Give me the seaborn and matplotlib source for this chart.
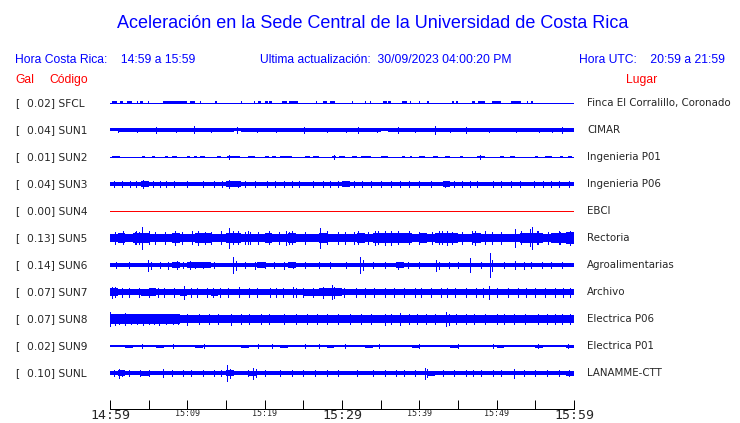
import numpy as np
import matplotlib
matplotlib.use("Agg")
import matplotlib.pyplot as plt
import seaborn as sns

# ==========================
# DATA
# ==========================
gal = [0.02, 0.04, 0.01, 0.04, 0.00, 0.13, 0.14, 0.07, 0.07, 0.02, 0.10]
codes = ["SFCL", "SUN1", "SUN2", "SUN3", "SUN4", "SUN5",
         "SUN6", "SUN7", "SUN8", "SUN9", "SUNL"]
places = ["Finca El Corralillo, Coronado", "CIMAR", "Ingenieria P01",
          "Ingenieria P06", "EBCI", "Rectoria", "Agroalimentarias",
          "Archivo", "Electrica P06", "Electrica P01", "LANAMME-CTT"]

tick_minutes = [0, 5, 10, 15, 20, 25, 30, 35, 40, 45, 50, 55, 60]
tick_labels = ["14:59", "", "15:09", "", "15:19", "", "15:29",
               "", "15:39", "", "15:49", "", "15:59"]

# half-height of each trace, one value per minute (pixels);
# None = quiet trace drawn as a plain line plus short bursts
env_sfcl = None
env_sun1 = [1.5, 1.7, 1.9, 1.9, 1.9, 1.8, 1.9, 1.8, 1.8, 1.9,
            1.8, 1.8, 1.7, 1.8, 1.8, 1.8, 1.5, 1.8, 1.8, 1.7,
            1.8, 1.8, 1.8, 1.8, 1.8, 1.8, 1.8, 1.8, 1.8, 1.9,
            2.1, 2.1, 2.0, 1.8, 1.8, 1.5, 1.6, 1.8, 1.8, 1.8,
            1.9, 1.9, 2.0, 1.9, 1.8, 1.8, 1.7, 1.8, 1.8, 1.8,
            1.7, 1.8, 1.7, 1.8, 1.7, 1.8, 1.6, 1.7, 1.8, 1.7]
env_sun2 = None
env_sun3 = [2.4, 2.4, 2.2, 2.4, 2.6, 2.2, 2.2, 2.4, 2.2, 2.2,
            2.2, 2.2, 2.2, 2.2, 2.4, 2.6, 2.6, 2.4, 2.2, 2.4,
            2.4, 2.4, 2.4, 2.2, 2.2, 2.2, 2.4, 2.2, 2.4, 2.4,
            2.6, 2.2, 2.2, 2.2, 2.2, 2.4, 2.2, 2.2, 2.4, 2.2,
            2.2, 2.4, 2.4, 2.6, 2.2, 2.2, 2.2, 2.4, 2.4, 2.2,
            2.2, 2.2, 2.2, 2.2, 2.4, 2.2, 2.2, 2.4, 2.2, 2.2]
env_sun4 = None
env_sun5 = [4.4, 4.6, 4.4, 4.6, 4.9, 4.4, 4.4, 4.4, 4.9, 4.4,
            4.4, 4.9, 4.6, 4.4, 4.4, 4.9, 4.6, 4.4, 4.4, 4.4,
            4.6, 4.4, 4.4, 4.9, 4.4, 4.4, 4.4, 4.6, 4.4, 4.4,
            4.4, 4.4, 4.6, 4.4, 5.2, 5.4, 5.4, 5.4, 4.9, 4.4,
            4.6, 4.4, 4.6, 4.9, 4.9, 4.4, 4.4, 4.6, 4.4, 4.4,
            4.4, 4.4, 4.4, 4.6, 4.9, 4.9, 4.4, 4.6, 5.2, 5.9]
env_sun6 = [2.2, 2.2, 2.0, 2.1, 2.1, 2.1, 2.0, 2.1, 2.6, 2.4,
            2.6, 2.9, 2.6, 2.1, 2.0, 2.2, 2.4, 2.1, 2.2, 2.6,
            2.4, 2.4, 2.0, 2.6, 2.1, 2.1, 2.0, 2.0, 2.0, 2.1,
            2.0, 2.4, 2.4, 2.2, 2.1, 2.2, 2.1, 2.6, 2.1, 2.0,
            2.1, 2.1, 2.4, 2.1, 2.0, 2.1, 2.0, 2.1, 2.1, 2.4,
            2.2, 2.1, 2.4, 2.1, 2.1, 2.1, 2.0, 2.0, 2.1, 2.1]
env_sun7 = [3.8, 3.3, 3.1, 3.3, 3.5, 3.6, 3.3, 3.1, 3.1, 3.5,
            3.3, 3.1, 3.3, 3.5, 3.3, 3.1, 3.1, 3.3, 3.1, 3.1,
            3.3, 3.3, 3.1, 3.3, 3.3, 3.5, 3.5, 3.6, 3.6, 3.8,
            3.3, 3.3, 3.1, 3.1, 3.3, 3.1, 3.3, 3.3, 3.3, 3.3,
            3.3, 3.1, 3.3, 3.3, 3.1, 3.1, 3.1, 3.3, 3.3, 3.3,
            3.1, 3.1, 3.3, 3.1, 3.3, 3.1, 3.1, 3.3, 3.3, 3.3]
env_sun8 = [5.3, 4.8, 4.8, 4.8, 4.8, 4.6, 4.8, 4.6, 4.6, 4.3,
            3.8, 3.8, 3.6, 3.8, 3.6, 3.8, 3.8, 3.6, 3.8, 3.6,
            3.8, 3.8, 3.6, 3.8, 3.6, 3.6, 3.6, 3.6, 3.8, 3.8,
            3.6, 3.8, 3.6, 3.8, 3.8, 4.1, 3.8, 4.1, 3.8, 3.6,
            3.8, 3.8, 4.1, 4.3, 3.8, 3.6, 3.6, 3.6, 3.6, 3.8,
            3.6, 3.8, 3.6, 3.6, 3.8, 3.6, 3.6, 3.8, 3.6, 3.6]
env_sun9 = [1.4, 1.4, 1.5, 1.4, 1.4, 1.4, 1.5, 1.4, 1.4, 1.4,
            1.4, 1.5, 1.4, 1.4, 1.4, 1.4, 1.4, 1.5, 1.4, 1.4,
            1.4, 1.4, 1.5, 1.4, 1.4, 1.4, 1.4, 1.4, 1.5, 1.4,
            1.4, 1.4, 1.4, 1.5, 1.4, 1.4, 1.4, 1.4, 1.4, 1.5,
            1.4, 1.4, 1.4, 1.4, 1.5, 1.4, 1.4, 1.4, 1.4, 1.4,
            1.5, 1.4, 1.4, 1.4, 1.4, 1.5, 1.4, 1.4, 1.4, 1.5]
env_sunl = [2.3, 2.6, 2.0, 2.0, 2.5, 2.0, 2.0, 2.3, 2.0, 2.0,
            2.1, 2.0, 2.1, 2.0, 2.1, 2.8, 2.3, 2.0, 2.5, 2.0,
            2.1, 2.0, 2.0, 2.0, 2.0, 2.0, 2.0, 2.0, 2.0, 2.0,
            2.0, 2.1, 2.0, 2.0, 2.0, 2.0, 2.0, 2.1, 2.0, 2.0,
            2.3, 2.5, 2.0, 2.0, 2.0, 2.0, 2.0, 2.0, 2.0, 2.3,
            2.0, 2.1, 2.3, 2.0, 2.0, 2.1, 2.0, 2.0, 2.1, 2.5]

# short bursts on the quiet traces: (start minute, end minute)
bursts_sfcl = [(0.2, 0.9), (1.3, 1.7), (2.2, 2.9), (3.5, 3.6), (3.9, 4.3),
               (4.9, 5.0), (6.9, 10.0), (10.4, 11.0), (11.7, 11.8),
               (13.6, 13.9), (17.0, 17.1), (18.6, 18.8), (19.2, 19.5),
               (20.0, 20.4), (20.6, 21.0), (22.3, 22.9), (23.2, 24.3),
               (26.7, 26.8), (27.6, 28.0), (28.4, 29.1), (31.3, 31.4),
               (33.0, 33.1), (33.6, 33.8), (35.3, 35.8), (36.0, 36.4),
               (37.7, 38.4), (38.8, 38.9), (40.0, 40.1), (41.0, 41.3),
               (44.2, 44.5), (44.8, 45.0), (46.8, 47.2), (47.6, 48.5),
               (49.4, 50.6), (51.9, 53.2), (53.9, 54.0), (54.5, 54.7),
               (58.8, 58.9)]
bursts_sun2 = [(0.2, 1.3), (4.1, 4.5), (5.4, 5.8), (7.1, 7.5), (8.0, 8.6),
               (9.9, 10.4), (10.8, 11.2), (11.6, 12.3), (13.8, 14.3),
               (15.1, 16.8), (17.9, 18.8), (20.0, 20.6), (21.0, 21.5),
               (22.0, 23.5), (25.2, 25.8), (26.3, 27.0), (28.7, 29.2),
               (29.6, 30.4), (31.3, 32.0), (32.4, 33.8), (35.1, 36.0),
               (37.7, 38.2), (38.8, 39.0), (40.0, 40.7), (41.8, 42.4),
               (43.3, 44.0), (45.3, 45.7), (47.4, 48.5), (50.4, 51.0),
               (51.7, 52.4), (54.9, 55.3), (56.3, 57.1), (58.2, 58.6),
               (59.2, 59.7)]
burst_half = [1.5, 0, 1.4, 0, 0, 0, 0, 0, 0, 0, 0]

# isolated peaks: (minute, half-height in pixels)
spk_sfcl = []
spk_sun1 = [(1.0, 2.4), (3.5, 2.4), (6.0, 2.6), (8.5, 2.4), (10.8, 3.5),
            (13.0, 2.4), (16.4, 2.6), (19.0, 2.4), (21.5, 2.4), (25.1, 2.6),
            (28.0, 2.4), (30.5, 2.4), (32.1, 3.3), (34.5, 2.4), (37.2, 2.6),
            (39.5, 2.4), (42.0, 3.7), (44.0, 2.4), (46.0, 2.6), (49.0, 2.4),
            (52.5, 2.4), (55.5, 2.4), (57.2, 2.4), (58.4, 2.8)]
spk_sun2 = [(15.4, 2.0), (29.0, 1.8), (47.8, 1.8)]
spk_sun3 = [(0.5, 3.0), (1.5, 3.0), (2.6, 3.0), (3.4, 3.0), (4.3, 3.6),
            (5.5, 3.0), (6.5, 3.0), (7.2, 3.0), (8.3, 3.0), (9.9, 3.0),
            (12.0, 3.0), (13.5, 3.0), (14.5, 3.0), (15.4, 3.6), (16.5, 3.0),
            (17.5, 3.2), (18.7, 3.0), (20.3, 3.0), (21.3, 3.0), (22.5, 3.0),
            (23.5, 3.0), (24.5, 3.0), (26.3, 3.2), (27.5, 3.0), (28.4, 3.0),
            (29.5, 3.0), (31.5, 3.0), (32.6, 3.0), (33.8, 3.0), (35.0, 3.0),
            (36.3, 3.0), (37.5, 3.0), (38.6, 3.0), (40.0, 3.0), (41.5, 3.0),
            (43.3, 3.4), (44.5, 3.0), (45.5, 3.0), (46.5, 3.0), (47.5, 3.0),
            (49.5, 3.0), (50.5, 3.0), (51.8, 3.0), (53.0, 3.0), (54.8, 3.2),
            (56.0, 3.0), (57.0, 3.0), (58.0, 3.0), (59.3, 3.0)]
spk_sun4 = []
spk_sun5 = [(0.6, 6.0), (1.7, 6.5), (3.2, 6.0), (3.3, 6.5), (3.7, 6.0),
            (4.2, 11.5), (5.0, 6.5), (5.8, 6.0), (7.1, 6.0), (8.4, 7.0),
            (9.3, 6.0), (10.6, 6.5), (11.4, 7.5), (12.3, 6.0), (13.1, 6.0),
            (14.4, 6.5), (15.4, 10.0), (15.9, 6.5), (16.6, 6.5), (17.5, 6.0),
            (17.9, 6.5), (18.1, 6.0), (19.2, 6.0), (20.5, 6.5), (21.8, 6.0),
            (22.8, 7.0), (23.2, 6.0), (23.5, 6.5), (25.2, 6.0), (27.1, 9.5),
            (28.0, 6.5), (29.5, 6.0), (30.4, 6.0), (31.5, 6.0), (32.1, 6.5),
            (33.4, 6.0), (34.3, 7.0), (34.7, 6.5), (35.6, 7.0), (36.4, 7.5),
            (37.3, 6.5), (38.6, 6.5), (39.9, 6.0), (41.6, 6.0), (42.5, 6.5),
            (42.9, 6.5), (43.6, 7.5), (44.2, 6.0), (45.5, 6.0), (46.8, 6.5),
            (47.2, 7.0), (48.5, 6.5), (49.4, 6.0), (50.6, 6.0), (52.4, 9.0),
            (53.2, 6.5), (54.3, 8.5), (54.6, 10.5), (55.2, 6.5), (55.4, 6.5),
            (56.7, 6.0), (58.0, 6.5), (58.2, 6.0), (59.5, 7.0)]
spk_sun6 = [(0.8, 3.3), (2.5, 3.3), (4.9, 5.5), (5.3, 3.5), (6.5, 3.3),
            (7.5, 3.5), (8.7, 3.7), (9.5, 3.3), (10.3, 4.0), (11.0, 3.3),
            (12.0, 3.3), (13.5, 3.3), (15.9, 8.0), (16.3, 4.5), (17.5, 3.3),
            (18.8, 3.5), (20.0, 3.3), (21.2, 3.3), (22.5, 3.5), (23.7, 3.3),
            (25.2, 3.3), (27.0, 3.3), (28.5, 3.3), (30.5, 3.3), (32.3, 8.0),
            (32.7, 5.0), (34.0, 3.3), (35.5, 3.3), (37.3, 3.5), (38.5, 3.3),
            (40.0, 3.3), (42.2, 5.5), (42.5, 3.5), (43.8, 3.3), (45.0, 3.3),
            (46.6, 7.0), (48.0, 3.3), (49.1, 12.0), (49.4, 5.5), (51.0, 3.3),
            (52.4, 4.0), (53.5, 3.5), (54.5, 3.3), (55.8, 3.3), (57.0, 3.3),
            (58.5, 3.3)]
spk_sun7 = [(0.2, 5.5), (0.6, 5.0), (1.5, 4.5), (2.4, 4.5), (3.7, 4.5),
            (5.0, 4.5), (6.2, 4.5), (7.0, 4.5), (8.3, 4.5), (9.6, 6.5),
            (10.5, 4.5), (11.3, 4.5), (12.5, 4.5), (13.3, 4.5), (14.2, 4.5),
            (15.2, 4.5), (16.7, 5.0), (18.0, 4.5), (19.0, 4.5), (20.7, 4.5),
            (21.5, 4.5), (22.4, 4.5), (23.6, 5.0), (24.0, 4.5), (25.0, 4.5),
            (26.2, 4.5), (27.5, 5.5), (28.7, 7.0), (29.0, 5.5), (30.3, 4.5),
            (31.8, 4.5), (33.0, 4.5), (34.2, 4.5), (35.5, 4.5), (36.7, 4.5),
            (38.0, 4.5), (39.4, 4.5), (40.2, 4.5), (41.5, 4.5), (42.8, 4.5),
            (43.6, 4.5), (44.6, 4.5), (46.0, 4.5), (47.3, 4.5), (48.2, 4.5),
            (49.0, 6.5), (50.0, 4.5), (51.5, 4.5), (52.7, 4.5), (53.8, 4.5),
            (55.0, 4.5), (56.2, 4.5), (57.5, 4.5), (58.6, 4.5), (59.5, 4.5)]
spk_sun8 = [(0.0, 7.0), (0.7, 5.5), (1.2, 5.0), (2.0, 6.0), (2.7, 5.0),
            (3.5, 5.0), (4.3, 5.5), (5.0, 5.0), (5.7, 5.0), (6.3, 5.5),
            (7.3, 5.0), (8.1, 5.0), (8.8, 5.0), (10.0, 5.5), (11.5, 5.0),
            (12.8, 5.0), (14.0, 5.0), (15.6, 5.5), (17.0, 5.0), (18.0, 5.0),
            (19.5, 5.0), (20.6, 5.0), (22.5, 5.0), (24.0, 5.0), (25.5, 5.0),
            (26.8, 5.0), (28.0, 5.0), (29.5, 5.0), (31.0, 5.0), (32.4, 5.0),
            (33.8, 5.0), (35.5, 5.5), (36.3, 5.0), (37.5, 6.0), (38.6, 5.0),
            (39.7, 5.0), (40.8, 5.0), (42.0, 5.0), (43.4, 7.0), (43.8, 5.5),
            (44.8, 5.0), (46.0, 5.0), (47.1, 5.0), (48.5, 5.0), (50.0, 5.0),
            (51.0, 5.0), (52.3, 5.0), (53.7, 5.0), (55.3, 5.0), (56.5, 5.0),
            (57.5, 5.0), (58.5, 5.0), (59.5, 5.0)]
spk_sun9 = [(4.2, 2.2), (8.1, 2.2), (12.2, 2.2), (19.1, 2.2), (21.0, 2.2),
            (25.2, 2.2), (27.0, 2.2), (30.4, 2.2), (34.8, 2.2), (40.0, 2.2),
            (45.0, 2.2), (49.5, 2.2), (55.4, 2.2), (59.2, 2.2)]
spk_sunl = [(0.5, 3.3), (1.1, 4.5), (1.5, 3.3), (2.5, 3.0), (3.9, 3.3),
            (5.0, 3.0), (6.9, 3.8), (8.0, 3.0), (9.5, 3.2), (10.5, 3.0),
            (12.0, 3.2), (13.5, 3.0), (14.3, 3.0), (15.1, 8.0), (15.5, 4.5),
            (17.8, 3.3), (18.5, 5.5), (18.9, 4.0), (20.0, 3.0), (22.0, 3.2),
            (23.5, 3.0), (25.0, 3.0), (26.5, 3.0), (28.0, 3.0), (29.5, 3.0),
            (32.0, 3.2), (34.0, 3.0), (35.5, 3.0), (37.0, 3.0), (38.0, 3.2),
            (39.5, 3.0), (40.7, 5.5), (41.0, 4.0), (43.0, 3.0), (44.5, 3.0),
            (46.0, 3.0), (47.0, 3.2), (48.0, 3.0), (49.5, 3.0), (50.5, 3.0),
            (52.2, 4.5), (53.5, 3.0), (55.0, 3.3), (56.5, 3.0), (58.0, 3.0),
            (59.3, 3.3)]

envelopes = [env_sfcl, env_sun1, env_sun2, env_sun3, env_sun4, env_sun5,
             env_sun6, env_sun7, env_sun8, env_sun9, env_sunl]
bursts = [bursts_sfcl, [], bursts_sun2, [], [], [], [], [], [], [], []]
spikes = [spk_sfcl, spk_sun1, spk_sun2, spk_sun3, spk_sun4, spk_sun5,
          spk_sun6, spk_sun7, spk_sun8, spk_sun9, spk_sunl]

# ==========================
# FIGURE
# ==========================
sns.set_theme(style="white")
plt.rcParams["font.family"] = ["DejaVu Sans"]

W, H = 740, 423
fig = plt.figure(figsize=(W / 100, H / 100), dpi=100)
fig.patch.set_facecolor("white")

BLUE = "#0000ff"
RED = "#ff0000"
ROW = 27.0  # pixels between traces
PX = 0.72   # one pixel in points

ax = fig.add_axes([110 / W, (H - 386.5) / H, 464 / W, 297 / H])
ax.set_xlim(0, 60)
ax.set_ylim(len(codes) - 0.5, -0.5)
ax.axis("off")

minutes = np.arange(61)
for i, (env, brs, spk) in enumerate(zip(envelopes, bursts, spikes)):
    color = RED if gal[i] == 0 else BLUE
    ax.plot([0, 60], [i, i], color=color, lw=PX, antialiased=False)
    if env is not None:
        half = np.array(env + [env[-1]]) / ROW
        ax.fill_between(minutes, i - half, i + half, step="post",
                        color=color, linewidth=0, antialiased=False)
    if brs:
        h = burst_half[i] / ROW
        ax.broken_barh([(a, b - a) for a, b in brs], (i - h, 2 * h),
                       facecolor=color, linewidth=0, antialiased=False)
    if spk:
        t = [s[0] for s in spk]
        a = np.array([s[1] for s in spk]) / ROW
        ax.vlines(t, i - a, i + a, color=color, lw=PX, antialiased=False)

    yf = (H - (103 + ROW * i)) / H
    fig.text(15 / W, yf, "[", fontsize=7.7, va="center", ha="left")
    fig.text(27 / W, yf, f"{gal[i]:.2f}] {codes[i]}", fontsize=7.7,
             va="center", ha="left")
    fig.text(587 / W, yf, places[i], fontsize=7.4, va="center", ha="left")

# time axis
ax2 = fig.add_axes([110 / W, (H - 409) / H, 464 / W, 9 / H])
ax2.set_xlim(0, 60)
ax2.set_yticks([])
for s in ["top", "left", "right"]:
    ax2.spines[s].set_visible(False)
ax2.spines["bottom"].set_color("black")
ax2.spines["bottom"].set_linewidth(PX)
ax2.patch.set_alpha(0)
ax2.set_xticks(tick_minutes)
ax2.set_xticklabels(tick_labels, family="DejaVu Sans Mono")
ax2.tick_params(axis="x", bottom=True, direction="in", length=6.5,
                width=PX, color="black", pad=0)
for m, lab in zip(tick_minutes, ax2.get_xticklabels()):
    lab.set_fontsize(9.5 if m % 30 == 0 else 6)

# header texts
hfont = ["Liberation Sans", "DejaVu Sans"]
fig.text(373 / W, (H - 23) / H,
         "Aceleración en la Sede Central de la Universidad de Costa Rica",
         fontsize=13, color=BLUE, ha="center", va="center", family=hfont)
fig.text(15 / W, (H - 60) / H, "Hora Costa Rica:    14:59 a 15:59",
         fontsize=8.7, color=BLUE, ha="left", va="center", family=hfont)
fig.text(260 / W, (H - 60) / H,
         "Ultima actualización:  30/09/2023 04:00:20 PM",
         fontsize=8.7, color=BLUE, ha="left", va="center", family=hfont)
fig.text(725 / W, (H - 60) / H, "Hora UTC:    20:59 a 21:59",
         fontsize=8.7, color=BLUE, ha="right", va="center", family=hfont)
fig.text(15 / W, (H - 80) / H, "Gal", fontsize=8.7, color=RED,
         ha="left", va="center", family=hfont)
fig.text(49 / W, (H - 80) / H, "Código", fontsize=8.7, color=RED,
         ha="left", va="center", family=hfont)
fig.text(626 / W, (H - 80) / H, "Lugar", fontsize=8.7, color=RED,
         ha="left", va="center", family=hfont)

fig.savefig("out.png", dpi=100, facecolor="white")
